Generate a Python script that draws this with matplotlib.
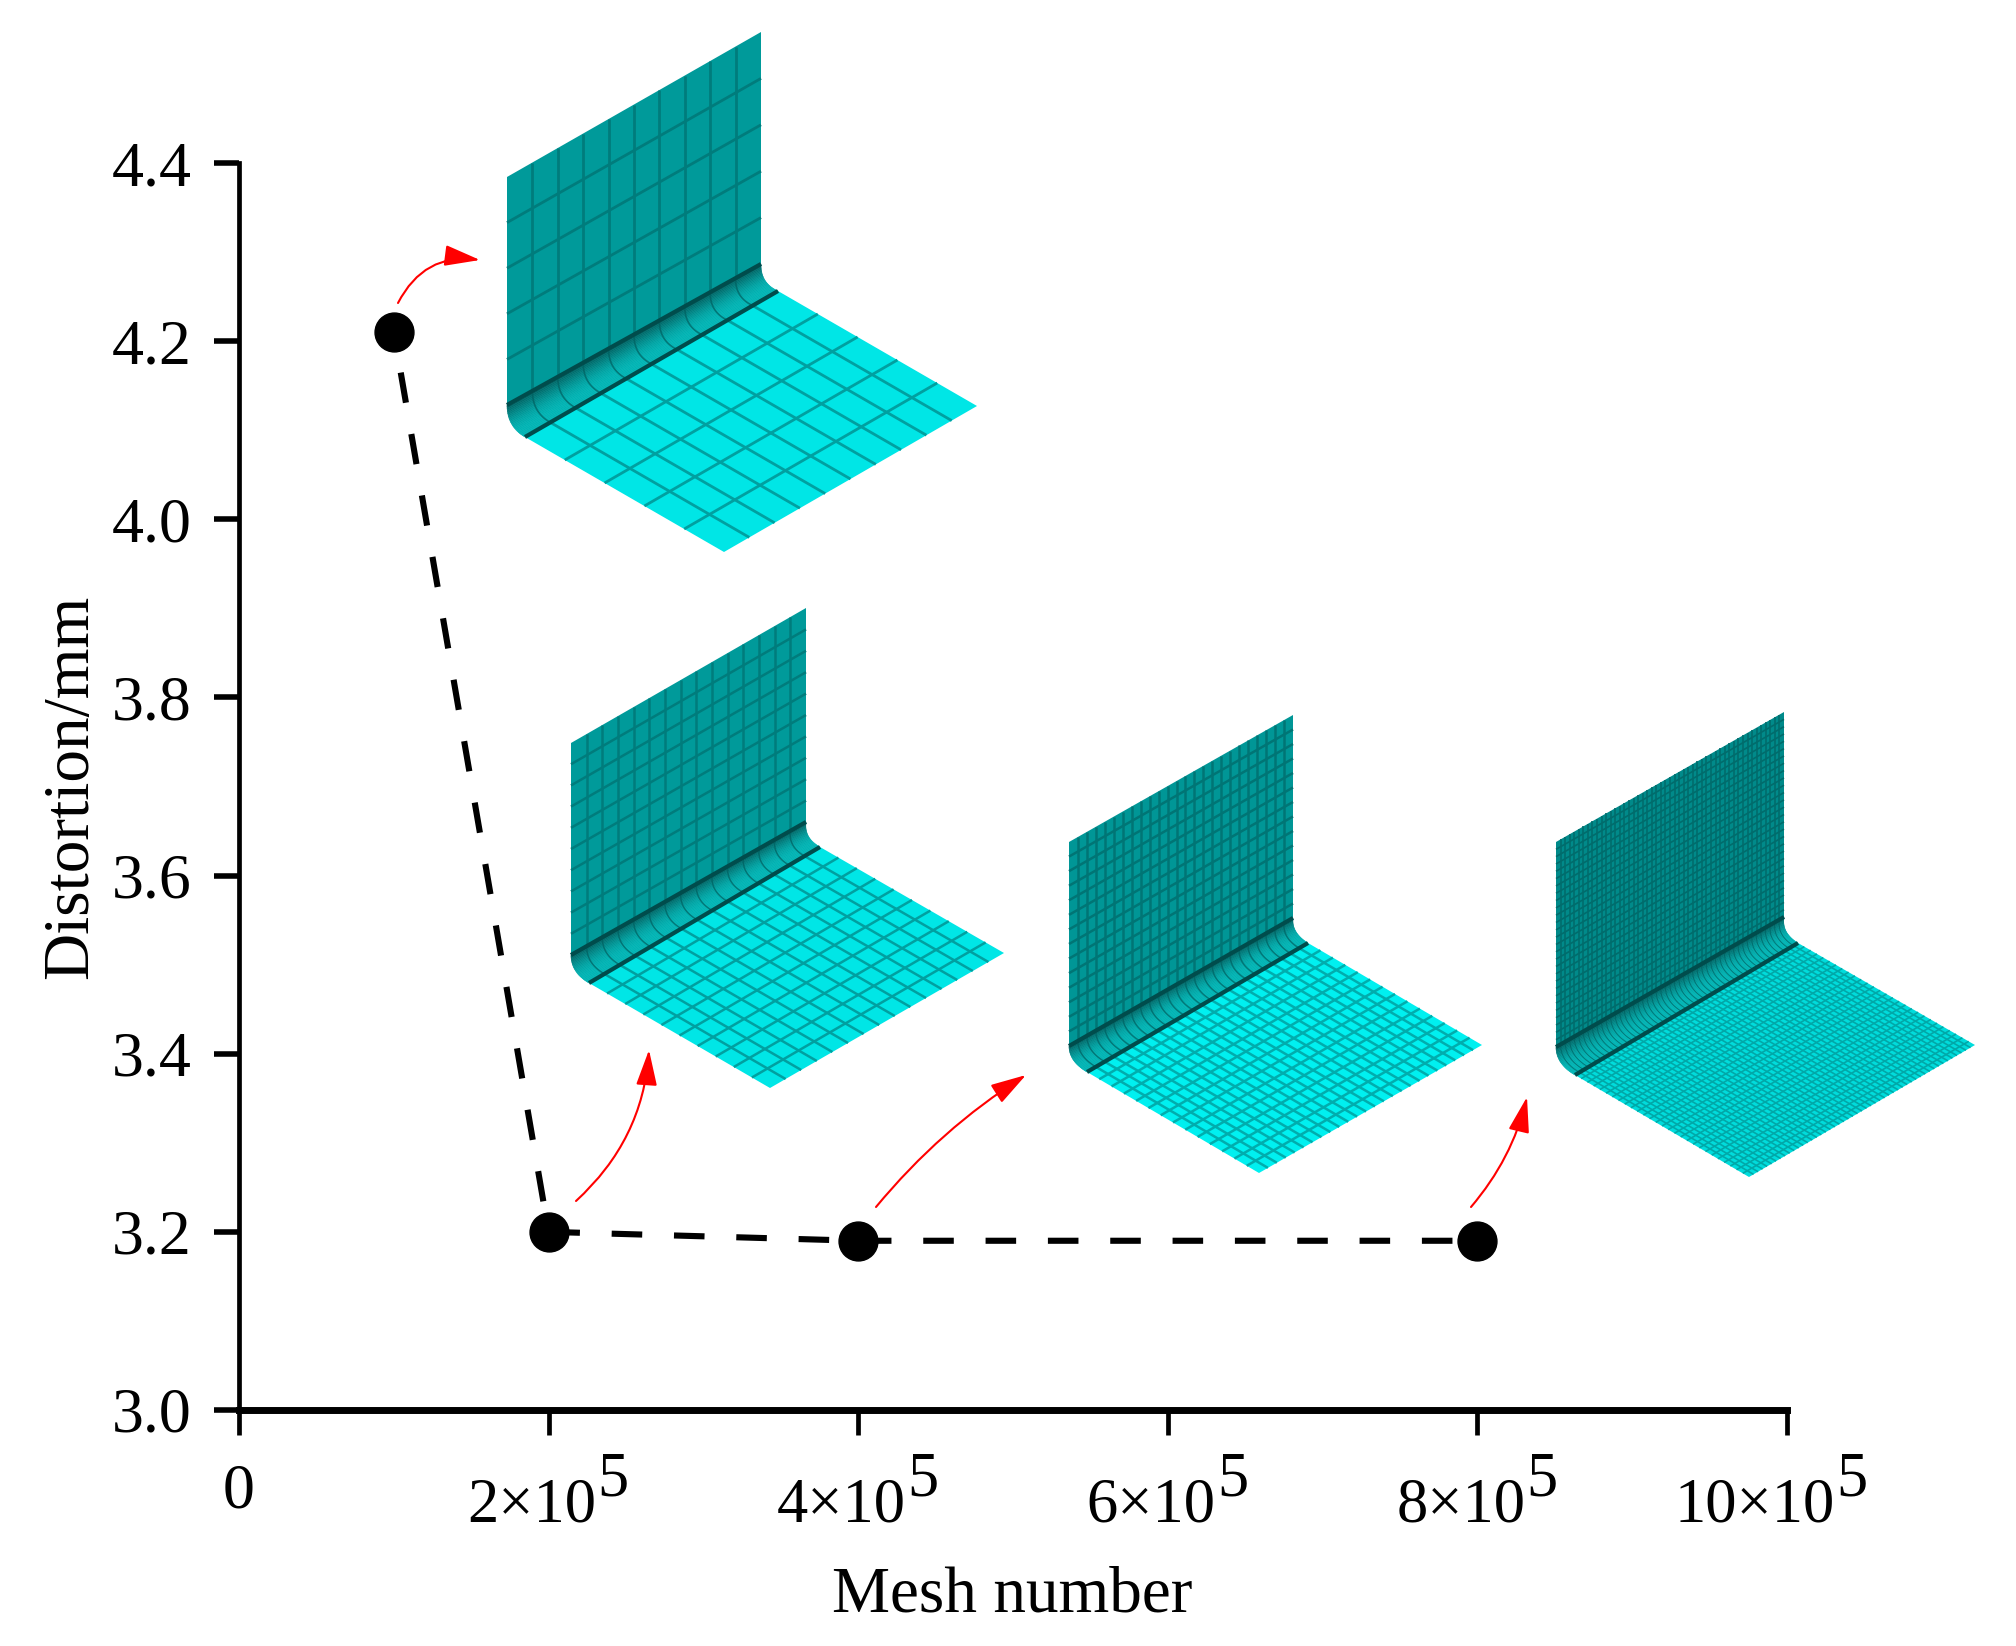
import numpy as np
import matplotlib
matplotlib.use("Agg")
import matplotlib.pyplot as plt
from matplotlib.collections import LineCollection, PolyCollection
from matplotlib.patches import FancyArrowPatch

plt.rcParams['font.family'] = ['Liberation Serif', 'DejaVu Serif']

# chart data
mesh_number = [1e5, 2e5, 4e5, 8e5]
distortion = [4.21, 3.20, 3.19, 3.19]
x_ticks = [0, 2e5, 4e5, 6e5, 8e5, 10e5]
x_tick_base = ['2×10', '4×10', '6×10', '8×10', '10×10']
x_tick_exp = '5'
y_ticks = [3.0, 3.2, 3.4, 3.6, 3.8, 4.0, 4.2, 4.4]
y_tick_labels = ['3.0', '3.2', '3.4', '3.6', '3.8', '4.0', '4.2', '4.4']

# mesh sketches, pixel positions in the picture:
# wall top left, wall top right, wall bottom right, wall bottom left,
# fillet end right, fillet end left, floor right, floor bottom
sketch_1 = [(507, 177), (761, 32), (761, 264), (507, 405), (778, 291), (525, 437), (977, 406), (724, 552)]
sketch_2 = [(571, 743), (806, 608), (806, 822), (571, 955), (820, 847), (589, 983), (1004, 953), (770, 1088)]
sketch_3 = [(1069, 842), (1293, 715), (1293, 918), (1069, 1046), (1308, 943), (1087, 1072), (1482, 1045), (1259, 1173)]
sketch_4 = [(1556, 842), (1784, 712), (1784, 917), (1556, 1047), (1798, 943), (1575, 1075), (1975, 1045), (1749, 1177)]
sketches = [sketch_1, sketch_2, sketch_3, sketch_4]
cells_along = [10, 15, 25, 50]
cells_wall = [5, 10, 14, 28]
cells_floor = [5, 10, 14, 28]
wall_colors = ['#009a9a', '#009a9a', '#009696', '#008a8a']
floor_colors = ['#00e6e6', '#00e6e6', '#00f0f0', '#00dcdc']
wall_line_colors = ['#007c7c', '#007c7c', '#007575', '#006c6c']
floor_line_colors = ['#00a0a0', '#00a0a0', '#00adad', '#00a8a8']
line_widths = [2.0, 1.8, 1.8, 1.2]

# red arrows: tail, head, bend
arrow_tails = [(398, 303), (576, 1201), (876, 1207), (1471, 1207)]
arrow_heads = [(480, 260), (649, 1050), (1026, 1075), (1527, 1097)]
arrow_bends = [-0.35, 0.2, -0.08, 0.12]


def draw_sketch(ax, pts, n_along, n_wall, n_floor, wall_c, floor_c, wall_lc, floor_lc, lw):
    tl, tr, wbr, wbl, fr, fl, rgt, bot = [np.array(p, float) for p in pts]

    ax.add_collection(PolyCollection([[tl, tr, wbr, wbl]], facecolors=wall_c, edgecolors='none', zorder=2))
    ax.add_collection(PolyCollection([[fl, fr, rgt, bot]], facecolors=floor_c, edgecolors='none', zorder=2))

    # fillet between wall and floor, drawn as thin strips along the spine
    floor_dir = (rgt - fr) / np.linalg.norm(rgt - fr)
    s = (fl[0] - wbl[0]) / floor_dir[0]
    ctrl = np.array([wbl[0], fl[1] - s * floor_dir[1]])
    t = np.linspace(0, 1, 25)[:, None]
    curve = (1 - t) ** 2 * wbl + 2 * t * (1 - t) * ctrl + t ** 2 * fl
    spine_w = wbr - wbl
    spine_f = fr - fl
    strips, shades = [], []
    for k in range(len(curve) - 1):
        a0, a1 = curve[k], curve[k + 1]
        w0, w1 = t[k, 0], t[k + 1, 0]
        s0 = spine_w * (1 - w0) + spine_f * w0
        s1 = spine_w * (1 - w1) + spine_f * w1
        strips.append([a0, a0 + s0, a1 + s1, a1])
        g = 95 + 85 * np.sin(min(w0 * 1.25, 1) * np.pi / 2)
        shades.append((0, g / 255, g / 255))
    ax.add_collection(PolyCollection(strips, facecolors=shades, edgecolors=shades, linewidths=0.4, zorder=2))

    # mesh lines
    wall_lines, floor_lines, fillet_lines = [], [], []
    for i in range(1, n_along):
        f = i / n_along
        wall_lines.append([tl + (tr - tl) * f, wbl + (wbr - wbl) * f])
        floor_lines.append([fl + (fr - fl) * f, bot + (rgt - bot) * f])
        fillet_lines.append(curve + (spine_w * (1 - t) + spine_f * t) * f)
    for j in range(1, n_wall):
        f = j / n_wall
        wall_lines.append([tl + (wbl - tl) * f, tr + (wbr - tr) * f])
    for j in range(1, n_floor):
        f = j / n_floor
        floor_lines.append([fl + (bot - fl) * f, fr + (rgt - fr) * f])
    ax.add_collection(LineCollection(wall_lines, colors=wall_lc, linewidths=lw, zorder=3))
    ax.add_collection(LineCollection(floor_lines, colors=floor_lc, linewidths=lw, zorder=3))
    ax.add_collection(LineCollection(fillet_lines, colors='#006060', linewidths=lw * 0.6, alpha=0.7, zorder=3))

    # dark seams
    seams = [[wbl, wbr], [fl, fr]]
    ax.add_collection(LineCollection(seams, colors='#004c4c', linewidths=3, zorder=4))


fig = plt.figure(figsize=(20.16, 16.46), dpi=100)
W, H = 2016, 1646
left, right, top, bottom = 239, 1787, 163, 1410
ax = fig.add_axes([left / W, 1 - bottom / H, (right - left) / W, (bottom - top) / H])

ax.plot(mesh_number, distortion, color='black', lw=4.4, linestyle=(3.5, (5.0, 5.2)),
        dash_capstyle='butt', marker='o', ms=28, mec='black', mfc='black', clip_on=False, zorder=5)

ax.set_xlim(0, 10e5)
ax.set_ylim(3.0, 4.4)
ax.spines['top'].set_visible(False)
ax.spines['right'].set_visible(False)
ax.spines['left'].set_linewidth(3.4)
ax.spines['bottom'].set_linewidth(5)
ax.set_xticks(x_ticks)
ax.set_xticklabels([])
ax.set_yticks(y_ticks)
ax.set_yticklabels(y_tick_labels, fontsize=46)
ax.tick_params(axis='x', length=18, width=3.4, direction='out')
ax.tick_params(axis='y', length=18, width=4, direction='out', pad=16)

# x tick labels: the exponent is as large as the digits, so it is its own text
trans = ax.get_xaxis_transform()
ax.annotate('0', (x_ticks[0], 0), xycoords=trans, xytext=(0, -98), textcoords='offset pixels',
            ha='center', va='baseline', fontsize=46)
for tick, base in zip(x_ticks[1:], x_tick_base):
    ax.annotate(base, (tick, 0), xycoords=trans, xytext=(48, -111), textcoords='offset pixels',
                ha='right', va='baseline', fontsize=45)
    ax.annotate(x_tick_exp, (tick, 0), xycoords=trans, xytext=(49, -86), textcoords='offset pixels',
                ha='left', va='baseline', fontsize=45)

fig.text(1012 / W, 1 - 1612 / H, 'Mesh number', ha='center', va='baseline', fontsize=47)
fig.text(71 / W, 1 - 787 / H, 'Distortion/mm', rotation=90, ha='center', va='center', fontsize=47)

# overlay in picture pixels for the mesh sketches and the arrows
over = fig.add_axes([0, 0, 1, 1], facecolor='none')
over.set_xlim(0, W)
over.set_ylim(H, 0)
over.axis('off')

for i, pts in enumerate(sketches):
    draw_sketch(over, pts, cells_along[i], cells_wall[i], cells_floor[i], wall_colors[i],
                floor_colors[i], wall_line_colors[i], floor_line_colors[i], line_widths[i])

for tail, head, bend in zip(arrow_tails, arrow_heads, arrow_bends):
    over.add_patch(FancyArrowPatch(tail, head, connectionstyle=f'arc3,rad={bend}',
                                   arrowstyle='-|>,head_length=2.2,head_width=0.65', mutation_scale=10,
                                   lw=1.5, color='#ff0000', shrinkA=0, shrinkB=0, zorder=6))

fig.savefig('out.png', dpi=100)
